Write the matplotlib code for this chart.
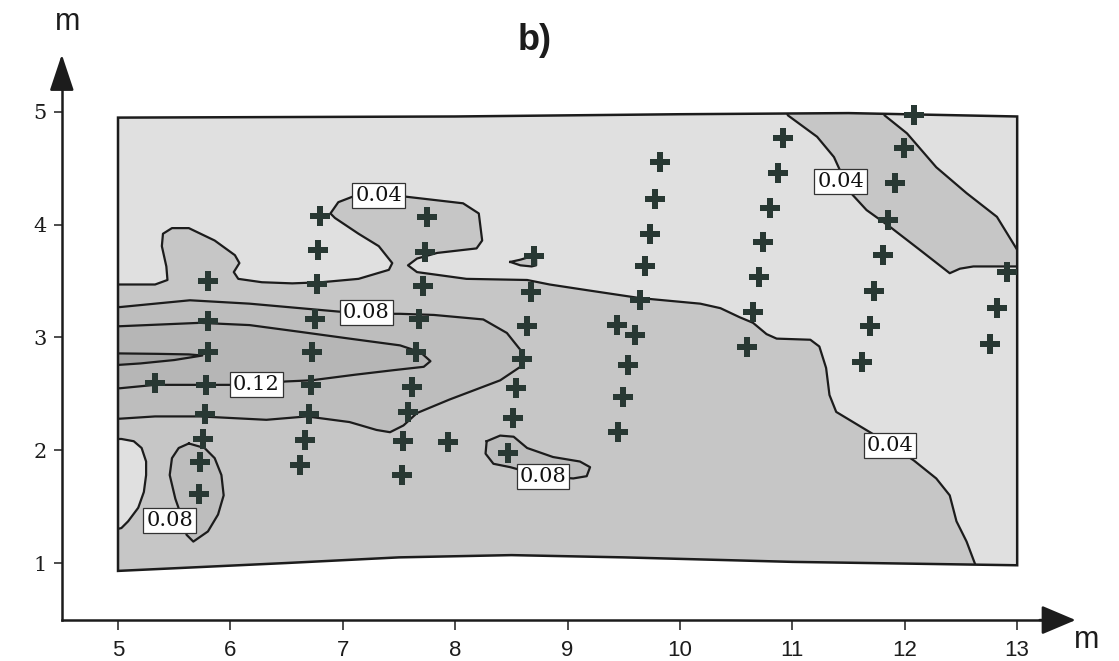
import numpy as np
import matplotlib
matplotlib.use("Agg")
import matplotlib.pyplot as plt
from matplotlib.patches import Polygon

# ---------------- data (metres) ----------------
# surveyed domain outline
top_x = [5.0, 8.0, 10.0, 11.5, 13.0]
top_y = [4.95, 4.96, 4.98, 4.99, 4.96]
bot_x = [5.0, 6.5, 7.5, 8.5, 9.5, 11.0, 13.0]
bot_y = [0.93, 1.00, 1.05, 1.07, 1.05, 1.01, 0.98]

# contour levels & fill shades
levels = [0.04, 0.08, 0.12, 0.16]
shade_low = "#e0e0e0"
shades = ["#c6c6c6", "#bdbdbd", "#b6b6b6", "#a4a4a4"]

# 0.04 iso-line (main, from left edge to bottom edge)
c04_main = [(4.9, 3.47), (5.02, 3.47), (5.33, 3.47), (5.44, 3.51), (5.43, 3.63), (5.39, 3.81),
            (5.40, 3.92), (5.48, 3.97), (5.63, 3.97), (5.86, 3.86), (6.04, 3.73), (6.08, 3.66),
            (6.03, 3.58), (6.07, 3.52), (6.28, 3.49), (6.55, 3.48), (6.81, 3.49), (7.14, 3.52),
            (7.41, 3.60), (7.44, 3.66), (7.32, 3.81), (7.14, 3.92), (6.93, 4.06), (6.89, 4.10),
            (6.96, 4.20), (7.09, 4.25), (7.32, 4.26), (7.55, 4.25), (8.07, 4.19), (8.21, 4.10),
            (8.24, 3.86), (8.19, 3.79), (7.84, 3.75), (7.66, 3.70), (7.58, 3.64), (7.66, 3.58),
            (8.10, 3.52), (8.64, 3.51), (8.84, 3.47), (9.17, 3.42), (9.64, 3.35), (10.18, 3.30),
            (10.36, 3.26), (10.53, 3.18), (10.65, 3.13), (10.77, 3.03), (10.86, 2.99), (11.16, 2.98),
            (11.24, 2.92), (11.30, 2.73), (11.33, 2.49), (11.39, 2.34), (11.54, 2.25), (11.69, 2.16),
            (11.87, 2.05), (12.08, 1.91), (12.28, 1.75), (12.40, 1.60), (12.46, 1.37), (12.55, 1.19),
            (12.66, 0.90)]
# 0.04 band in the upper right (two iso-lines)
c04_band_left = [(10.93, 5.05), (10.96, 4.97), (11.22, 4.78), (11.37, 4.60), (11.42, 4.49),
                 (11.44, 4.38), (11.54, 4.26), (11.66, 4.13), (11.87, 3.98), (12.13, 3.78),
                 (12.40, 3.57), (12.49, 3.61), (12.61, 3.63), (12.82, 3.63), (13.1, 3.63)]
c04_band_right = [(11.79, 5.05), (11.82, 4.97), (12.02, 4.81), (12.28, 4.51), (12.55, 4.28),
                  (12.82, 4.07), (12.98, 3.81), (13.06, 3.68)]
# small 0.04 island
c04_island = [(8.49, 3.67), (8.58, 3.69), (8.68, 3.72), (8.72, 3.69), (8.72, 3.64),
              (8.68, 3.63), (8.58, 3.64)]
# low-value bay at the lower-left edge
c04_bay = [(4.9, 2.10), (5.03, 2.10), (5.14, 2.08), (5.21, 2.02), (5.25, 1.90), (5.25, 1.78),
           (5.23, 1.63), (5.18, 1.49), (5.09, 1.37), (5.03, 1.31), (4.9, 1.28)]

# 0.08 iso-lines
c08_main = [(4.9, 3.27), (5.02, 3.27), (5.33, 3.30), (5.64, 3.33), (6.17, 3.30), (6.62, 3.26),
            (6.96, 3.23), (7.21, 3.21), (7.51, 3.21), (7.81, 3.20), (8.25, 3.16), (8.46, 3.04),
            (8.58, 2.89), (8.62, 2.80), (8.58, 2.74), (8.40, 2.62), (7.95, 2.45), (7.66, 2.33),
            (7.54, 2.22), (7.42, 2.16), (7.30, 2.18), (7.06, 2.25), (6.68, 2.30), (6.32, 2.27),
            (5.73, 2.30), (5.33, 2.30), (5.02, 2.28), (4.9, 2.28)]
c08_west = [(5.63, 2.06), (5.77, 2.02), (5.86, 1.93), (5.92, 1.78), (5.94, 1.60), (5.89, 1.43),
            (5.80, 1.28), (5.67, 1.19), (5.61, 1.25), (5.58, 1.37), (5.51, 1.57), (5.46, 1.78),
            (5.48, 1.93), (5.54, 2.02)]
c08_east = [(8.28, 2.08), (8.40, 2.13), (8.52, 2.12), (8.64, 2.02), (8.87, 1.94), (9.11, 1.90),
            (9.20, 1.85), (9.17, 1.77), (9.05, 1.75), (8.78, 1.77), (8.49, 1.85), (8.34, 1.88),
            (8.27, 1.97)]

# 0.12 iso-line
c12 = [(4.9, 3.10), (5.02, 3.10), (5.73, 3.13), (6.17, 3.11), (6.62, 3.05), (7.06, 2.99),
       (7.51, 2.93), (7.69, 2.87), (7.78, 2.79), (7.72, 2.74), (7.45, 2.71), (7.11, 2.67),
       (6.72, 2.62), (6.49, 2.61), (6.23, 2.58), (5.77, 2.58), (5.33, 2.58), (5.02, 2.55),
       (4.9, 2.55)]
# innermost tongue
c16 = [(4.9, 2.86), (5.35, 2.855), (5.63, 2.85), (5.75, 2.84), (5.50, 2.80), (5.20, 2.77),
       (4.9, 2.75)]

# contour labels
lab_text = ["0.04", "0.04", "0.08", "0.12", "0.08", "0.08", "0.04"]
lab_x = [7.32, 11.43, 7.21, 6.23, 5.46, 8.78, 11.87]
lab_y = [4.26, 4.38, 3.22, 2.58, 1.38, 1.77, 2.04]

# measurement points
pt_x = [5.33,
        5.80, 5.80, 5.80, 5.78, 5.77, 5.76, 5.73, 5.72,
        6.80, 6.78, 6.77, 6.75, 6.73, 6.72, 6.70, 6.66, 6.62,
        7.75, 7.73, 7.71, 7.68, 7.65, 7.62, 7.58, 7.54, 7.53,
        7.94,
        8.70, 8.67, 8.64, 8.59, 8.54, 8.51, 8.47,
        9.82, 9.78, 9.73, 9.69, 9.64, 9.44, 9.60, 9.54, 9.49, 9.45,
        10.92, 10.87, 10.80, 10.74, 10.70, 10.65, 10.60,
        12.08, 11.99, 11.91, 11.85, 11.81, 11.73, 11.69, 11.62,
        12.91, 12.82, 12.76]
pt_y = [2.60,
        3.50, 3.15, 2.87, 2.58, 2.32, 2.10, 1.90, 1.61,
        4.08, 3.78, 3.47, 3.16, 2.87, 2.58, 2.32, 2.09, 1.87,
        4.07, 3.76, 3.46, 3.16, 2.87, 2.56, 2.34, 2.08, 1.78,
        2.07,
        3.72, 3.40, 3.10, 2.81, 2.55, 2.29, 1.98,
        4.56, 4.23, 3.92, 3.63, 3.33, 3.11, 3.02, 2.76, 2.47, 2.16,
        4.77, 4.46, 4.15, 3.85, 3.54, 3.23, 2.92,
        4.97, 4.68, 4.37, 4.04, 3.73, 3.41, 3.10, 2.78,
        3.58, 3.26, 2.94]

x_ticks = [5, 6, 7, 8, 9, 10, 11, 12, 13]
y_ticks = [1, 2, 3, 4, 5]

# ---------------- figure ----------------
W, H = 1119, 661
fig = plt.figure(figsize=(W / 100, H / 100), dpi=100)
ax = fig.add_axes([0, 0, 1, 1])
ax.set_xlim(3.950, 13.906)
ax.set_ylim(0.131, 5.993)
ax.patch.set_visible(False)

INK = "#1c1c1c"
narrow = ["Liberation Sans Narrow", "Liberation Sans", "DejaVu Sans"]
serif = ["DejaVu Serif"]

# domain polygon
dom = np.vstack([np.column_stack([top_x, top_y]),
                 np.column_stack([bot_x[::-1], bot_y[::-1]])])
domain = Polygon(dom, closed=True, facecolor=shade_low, edgecolor="none", zorder=1)
ax.add_patch(domain)


def fill(pts, color, z):
    p = Polygon(np.asarray(pts), closed=True, facecolor=color, edgecolor="none", zorder=z)
    ax.add_patch(p)
    p.set_clip_path(domain)


def line(pts, closed=False):
    a = np.asarray(pts)
    if closed:
        a = np.vstack([a, a[:1]])
    ln, = ax.plot(a[:, 0], a[:, 1], color=INK, lw=1.6, zorder=3, solid_joinstyle="round")
    ln.set_clip_path(domain)


# >= 0.04 regions
main_region = list(c04_main) + [(12.66, 0.7), (4.9, 0.7)]
fill(main_region, shades[0], 1.1)
fill(list(c04_band_left) + list(c04_band_right[::-1]), shades[0], 1.1)
fill(c04_island, shades[0], 1.1)
fill(c04_bay, shade_low, 1.2)
# >= 0.08
fill(c08_main, shades[1], 1.3)
fill(c08_west, shades[1], 1.3)
fill(c08_east, shades[1], 1.3)
# >= 0.12
fill(c12, shades[2], 1.4)
fill(c16, shades[3], 1.5)

for c in (c04_main, c04_band_left, c04_band_right, c04_bay, c08_main, c12, c16):
    line(c)
for c in (c04_island, c08_west, c08_east):
    line(c, closed=True)

# domain outline
ax.add_patch(Polygon(dom, closed=True, fill=False, edgecolor=INK, lw=1.8, zorder=3.5))

# points
ax.plot(pt_x, pt_y, linestyle="none", marker="P", ms=14, color="#283833",
        markeredgewidth=0, zorder=4)

# contour labels
for t, x, y in zip(lab_text, lab_x, lab_y):
    ax.text(x, y, t, ha="center", va="center", fontsize=15, family=serif, color="#111",
            zorder=5,
            bbox=dict(boxstyle="square,pad=0.14", fc="white", ec="#333", lw=0.9))

# axes with arrows
x0, y0 = 4.5, 0.494
for s in ("top", "right"):
    ax.spines[s].set_visible(False)
ax.spines["left"].set_position(("data", x0))
ax.spines["bottom"].set_position(("data", y0))
ax.spines["left"].set_bounds(y0, 5.35)
ax.spines["bottom"].set_bounds(x0, 13.35)
for s in ("left", "bottom"):
    ax.spines[s].set_linewidth(1.8)
    ax.spines[s].set_color(INK)
ax.set_xticks(x_ticks)
ax.set_yticks(y_ticks)
ax.set_xticklabels([str(v) for v in x_ticks], fontsize=16, family=narrow)
ax.set_yticklabels([str(v) for v in y_ticks], fontsize=15, family=serif)
ax.tick_params(axis="x", direction="out", length=7, width=1.1, pad=7, colors=INK)
ax.tick_params(axis="y", direction="out", length=6, width=1.1, pad=5, colors=INK)

ax.annotate("", xy=(13.52, y0), xytext=(13.2, y0),
            arrowprops=dict(arrowstyle="-|>,head_length=0.85,head_width=0.36",
                            lw=1.8, color=INK, mutation_scale=25, shrinkA=0, shrinkB=0))
ax.annotate("", xy=(x0, 5.51), xytext=(x0, 5.2),
            arrowprops=dict(arrowstyle="-|>,head_length=0.9,head_width=0.3",
                            lw=1.8, color=INK, mutation_scale=25, shrinkA=0, shrinkB=0))

ax.text(4.555, 5.80, "m", ha="center", va="center", fontsize=22, family=narrow, color=INK)
ax.text(13.62, 0.32, "m", ha="center", va="center", fontsize=22, family=narrow, color=INK)
ax.text(8.71, 5.63, "b)", ha="center", va="center", fontsize=26, fontweight="bold",
        family=["Liberation Sans", "DejaVu Sans"], color=INK)

fig.savefig("out.png", dpi=100)
